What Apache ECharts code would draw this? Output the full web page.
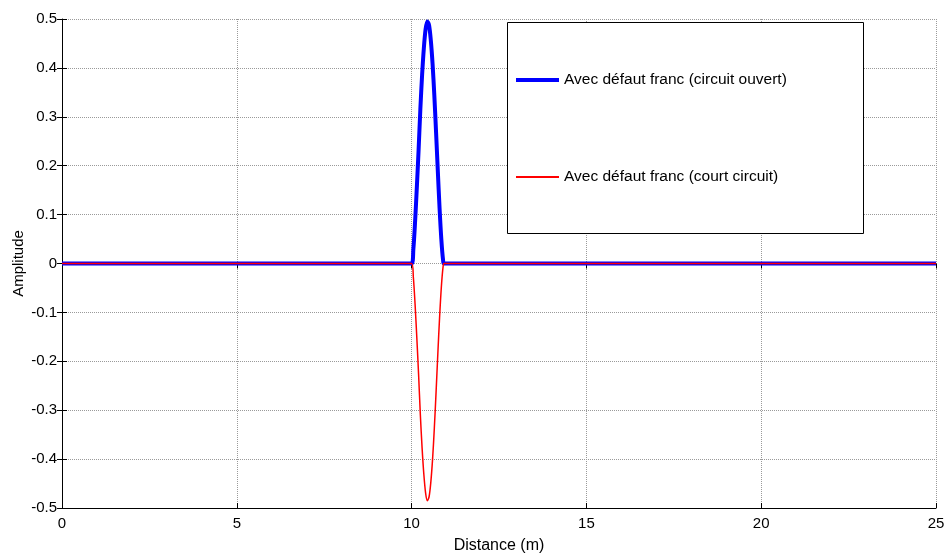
<!DOCTYPE html>
<html>
<head>
<meta charset="utf-8">
<script src="https://cdn.jsdelivr.net/npm/echarts@6/dist/echarts.min.js"></script>
<style>html,body{margin:0;padding:0;background:#fff}#c{width:944px;height:554px}</style>
</head>
<body>
<div id="c"></div>
<script>
// Distance values (m)
const distance = [0, 10.00, 10.05, 10.10, 10.15, 10.20, 10.25, 10.30, 10.35, 10.40, 10.45, 10.50, 10.55, 10.60, 10.65, 10.70, 10.75, 10.80, 10.85, 10.90, 10.93, 25];
// Open circuit reflection (blue)
const openCircuit = [0, 0, 0.029, 0.086, 0.156, 0.232, 0.315, 0.385, 0.440, 0.479, 0.495, 0.487, 0.456, 0.408, 0.344, 0.268, 0.189, 0.113, 0.050, 0.007, 0, 0];
// Short circuit reflection (red)
const shortCircuit = [0, 0, -0.028, -0.084, -0.153, -0.227, -0.309, -0.377, -0.431, -0.469, -0.485, -0.477, -0.447, -0.400, -0.337, -0.263, -0.185, -0.111, -0.049, -0.007, 0, 0];
const xTicks = [0, 5, 10, 15, 20, 25];
const yTicks = [-0.5, -0.4, -0.3, -0.2, -0.1, 0, 0.1, 0.2, 0.3, 0.4, 0.5];
const seriesNames = ['Avec défaut franc (circuit ouvert)', 'Avec défaut franc (court circuit)'];

const font = 'Liberation Sans, Arial, sans-serif';
const pairs = (ys) => distance.map((x, i) => [x, ys[i]]);

const chart = echarts.init(document.getElementById('c'));
const gridLine = { show: true, lineStyle: { color: '#9a9a9a', type: [1, 1], width: 1 } };
const legendText = { fontFamily: font, fontSize: 15.5, color: '#000' };
chart.setOption({
  animation: false,
  backgroundColor: '#fff',
  grid: { left: 62, right: 8, top: 19, bottom: 46, containLabel: false, outerBoundsMode: 'none' },
  graphic: [{
    type: 'rect', left: 507, top: 22, z: 90,
    shape: { width: 356, height: 211 },
    style: { fill: '#fff', stroke: '#000', lineWidth: 1 }
  }],
  legend: [{
    orient: 'vertical', left: 516, top: 72, z: 100, padding: 0,
    itemWidth: 43, itemHeight: 4, icon: 'rect', itemGap: 5,
    textStyle: legendText, data: [seriesNames[0]]
  }, {
    orient: 'vertical', left: 516, top: 169, z: 100, padding: 0,
    itemWidth: 43, itemHeight: 2, icon: 'rect', itemGap: 5,
    textStyle: legendText, data: [seriesNames[1]]
  }],
  xAxis: [{
    type: 'value', min: xTicks[0], max: xTicks[xTicks.length - 1], interval: 5,
    name: 'Distance (m)', nameLocation: 'middle', nameGap: 30, nameMoveOverlap: false,
    nameTextStyle: { fontFamily: font, fontSize: 16, color: '#000' },
    axisLine: { show: true, onZero: false, lineStyle: { color: '#000', width: 1 } },
    axisTick: { show: true, inside: true, length: 5, lineStyle: { color: '#000' } },
    axisLabel: { fontFamily: font, fontSize: 15, color: '#000', margin: 8 },
    splitLine: gridLine
  }, {
    type: 'value', position: 'top', min: xTicks[0], max: xTicks[xTicks.length - 1], interval: 5,
    axisLine: { show: false },
    axisTick: { show: true, inside: true, length: 5, lineStyle: { color: '#000' } },
    axisLabel: { show: false }, splitLine: { show: false }
  }],
  yAxis: [{
    type: 'value', min: yTicks[0], max: yTicks[yTicks.length - 1], interval: 0.1,
    name: 'Amplitude', nameLocation: 'middle', nameGap: 36, nameMoveOverlap: false,
    nameTextStyle: { fontFamily: font, fontSize: 15, color: '#000' },
    axisLine: { show: true, onZero: false, lineStyle: { color: '#000', width: 1 } },
    axisTick: { show: true, inside: true, length: 5, lineStyle: { color: '#000' } },
    axisLabel: { fontFamily: font, fontSize: 15, color: '#000', margin: 5,
      formatter: (v) => String(Math.round(v * 10) / 10) },
    splitLine: gridLine
  }, {
    type: 'value', position: 'right', min: yTicks[0], max: yTicks[yTicks.length - 1], interval: 0.1,
    axisLine: { show: false },
    axisTick: { show: true, inside: true, length: 5, lineStyle: { color: '#000' } },
    axisLabel: { show: false }, splitLine: { show: false }
  }],
  series: [{
    name: seriesNames[0], type: 'line', data: pairs(openCircuit),
    symbol: 'none', smooth: 0.3, lineStyle: { color: '#0000ff', width: 4 }, itemStyle: { color: '#0000ff' }, z: 2
  }, {
    name: seriesNames[1], type: 'line', data: pairs(shortCircuit),
    symbol: 'none', smooth: 0.3, lineStyle: { color: '#ff0000', width: 1.5 }, itemStyle: { color: '#ff0000' }, z: 3
  }]
});
</script>
</body>
</html>
